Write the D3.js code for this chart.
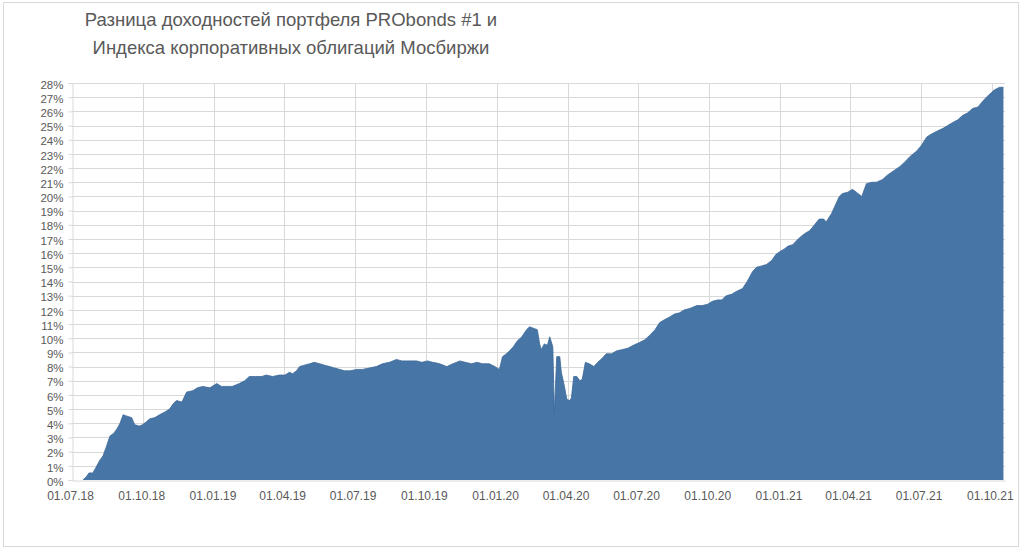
<!DOCTYPE html>
<html><head><meta charset="utf-8">
<script src="https://cdn.jsdelivr.net/npm/d3@7/dist/d3.min.js"></script>
<style>body{margin:0;background:#fff}svg{display:block}</style>
</head><body><svg id="c" width="1024" height="550"></svg>
<script>
const titleLines = ["Разница доходностей портфеля PRObonds #1 и", "Индекса корпоративных облигаций Мосбиржи"];
const xTickDates = ["2018-07-01","2018-10-01","2019-01-01","2019-04-01","2019-07-01","2019-10-01","2020-01-01","2020-04-01","2020-07-01","2020-10-01","2021-01-01","2021-04-01","2021-07-01","2021-10-01"];
const yTicks = d3.range(0, 29);
const dates = ["2018-07-15","2018-07-19","2018-07-23","2018-07-28","2018-08-01","2018-08-06","2018-08-10","2018-08-14","2018-08-19","2018-08-24","2018-08-28","2018-09-01","2018-09-05","2018-09-10","2018-09-16","2018-09-20","2018-09-26","2018-09-30","2018-10-05","2018-10-09","2018-10-16","2018-10-22","2018-10-29","2018-11-04","2018-11-09","2018-11-13","2018-11-20","2018-11-26","2018-12-04","2018-12-10","2018-12-17","2018-12-26","2019-01-04","2019-01-10","2019-01-17","2019-01-24","2019-02-02","2019-02-09","2019-02-15","2019-02-23","2019-03-03","2019-03-09","2019-03-17","2019-03-26","2019-04-02","2019-04-08","2019-04-12","2019-04-17","2019-04-21","2019-04-27","2019-05-04","2019-05-10","2019-05-17","2019-05-23","2019-05-30","2019-06-05","2019-06-12","2019-06-18","2019-06-25","2019-07-04","2019-07-11","2019-07-20","2019-07-29","2019-08-06","2019-08-15","2019-08-24","2019-08-31","2019-09-06","2019-09-13","2019-09-19","2019-09-26","2019-10-03","2019-10-10","2019-10-19","2019-10-28","2019-11-05","2019-11-14","2019-11-21","2019-11-29","2019-12-06","2019-12-13","2019-12-22","2019-12-29","2020-01-04","2020-01-08","2020-01-13","2020-01-17","2020-01-22","2020-01-27","2020-02-02","2020-02-08","2020-02-12","2020-02-17","2020-02-22","2020-02-25","2020-02-27","2020-03-02","2020-03-06","2020-03-09","2020-03-13","2020-03-15","2020-03-18","2020-03-22","2020-03-24","2020-03-28","2020-03-31","2020-04-04","2020-04-06","2020-04-09","2020-04-13","2020-04-17","2020-04-20","2020-04-24","2020-04-29","2020-05-05","2020-05-10","2020-05-16","2020-05-21","2020-05-28","2020-06-03","2020-06-11","2020-06-18","2020-06-25","2020-07-03","2020-07-10","2020-07-16","2020-07-23","2020-07-29","2020-08-04","2020-08-11","2020-08-17","2020-08-24","2020-08-30","2020-09-06","2020-09-15","2020-09-22","2020-09-29","2020-10-05","2020-10-12","2020-10-17","2020-10-23","2020-10-30","2020-11-05","2020-11-13","2020-11-19","2020-11-26","2020-12-01","2020-12-08","2020-12-14","2020-12-21","2020-12-26","2020-12-31","2021-01-06","2021-01-11","2021-01-17","2021-01-22","2021-01-28","2021-02-02","2021-02-08","2021-02-14","2021-02-20","2021-02-26","2021-03-01","2021-03-08","2021-03-13","2021-03-18","2021-03-22","2021-03-29","2021-04-04","2021-04-09","2021-04-16","2021-04-22","2021-04-29","2021-05-05","2021-05-13","2021-05-19","2021-05-27","2021-06-04","2021-06-10","2021-06-17","2021-06-26","2021-07-02","2021-07-09","2021-07-15","2021-07-22","2021-07-30","2021-08-05","2021-08-11","2021-08-18","2021-08-24","2021-08-31","2021-09-06","2021-09-13","2021-09-19","2021-09-24","2021-09-30","2021-10-04","2021-10-11","2021-10-16"];
const spread = [0.0,0.2,0.5,0.5,0.9,1.4,1.7,2.3,3.1,3.3,3.6,4.0,4.6,4.5,4.4,3.9,3.8,3.9,4.1,4.3,4.4,4.6,4.8,5.0,5.4,5.6,5.5,6.2,6.3,6.5,6.6,6.5,6.8,6.6,6.6,6.6,6.8,7.0,7.3,7.3,7.3,7.4,7.3,7.4,7.4,7.6,7.5,7.7,8.0,8.1,8.2,8.3,8.2,8.1,8.0,7.9,7.8,7.7,7.7,7.8,7.8,7.9,8.0,8.2,8.3,8.5,8.4,8.4,8.4,8.4,8.3,8.4,8.3,8.2,8.0,8.2,8.4,8.3,8.2,8.3,8.2,8.2,8.0,7.8,8.7,8.9,9.1,9.4,9.8,10.1,10.6,10.8,10.7,10.6,9.6,9.2,9.6,9.5,10.1,9.4,4.7,8.7,8.7,7.6,6.6,5.7,5.6,5.8,7.3,7.3,7.0,7.1,8.3,8.2,8.0,8.3,8.6,8.9,8.9,9.1,9.2,9.3,9.5,9.7,9.9,10.2,10.6,11.1,11.3,11.5,11.7,11.8,12.0,12.1,12.3,12.3,12.4,12.6,12.7,12.7,13.0,13.1,13.3,13.5,14.0,14.7,15.0,15.1,15.2,15.5,15.9,16.1,16.3,16.5,16.6,16.9,17.2,17.4,17.6,18.0,18.4,18.4,18.2,18.8,19.4,20.0,20.2,20.3,20.5,20.3,20.0,20.9,21.0,21.0,21.2,21.5,21.8,22.1,22.4,22.8,23.2,23.6,24.2,24.4,24.6,24.8,25.0,25.2,25.4,25.7,25.9,26.2,26.3,26.7,27.0,27.3,27.5,27.7,27.7];

const parse = d3.timeParse("%Y-%m-%d");
const data = dates.map((d, i) => ({date: parse(d), v: spread[i]}));

const svg = d3.select("#c");
const m = {left: 72, right: 1005, top: 83, bottom: 480};

// outer frame
svg.append("rect").attr("x", 3.5).attr("y", 2.5).attr("width", 1015).attr("height", 544)
  .attr("fill", "#fff").attr("stroke", "#d9d9d9");

const x = d3.scaleTime().domain([parse("2018-07-01"), parse("2021-10-18")]).range([m.left, m.right]);
const y = d3.scaleLinear().domain([0, 28]).range([m.bottom, m.top]);

// gridlines
const g = svg.append("g");
g.selectAll("line.h").data(yTicks.filter(t => t > 0)).join("line")
  .attr("x1", m.left).attr("x2", m.right)
  .attr("y1", d => Math.round(y(d)) + 0.5).attr("y2", d => Math.round(y(d)) + 0.5)
  .attr("stroke", "#d9d9d9").attr("stroke-width", 1);
g.selectAll("line.v").data(xTickDates.slice(1).map(parse)).join("line")
  .attr("x1", d => Math.round(x(d)) + 0.5).attr("x2", d => Math.round(x(d)) + 0.5)
  .attr("y1", m.top).attr("y2", m.bottom)
  .attr("stroke", "#d9d9d9").attr("stroke-width", 1);

// area
const area = d3.area().x(d => x(d.date)).y0(y(0)).y1(d => y(d.v)).curve(d3.curveLinear);
svg.append("path").datum(data).attr("d", area).attr("fill", "#4675a6");
svg.append("path").datum(data)
  .attr("d", d3.line().x(d => x(d.date)).y(d => y(d.v)))
  .attr("fill", "none").attr("stroke", "#3d6a99").attr("stroke-width", 0.8);

// axes
const yAxis = d3.axisLeft(y).tickValues(yTicks).tickSize(4).tickFormat(d => d + "%");
const ya = svg.append("g").attr("transform", `translate(${m.left + 0.5},0)`).call(yAxis);
ya.select(".domain").attr("stroke", "#d9d9d9");
ya.selectAll(".tick line").attr("stroke", "#d9d9d9");
ya.selectAll(".tick text").attr("fill", "#595959").attr("font-family", "Liberation Sans, Arial, sans-serif")
  .attr("font-size", 11.5).attr("x", -9).attr("dy", "0.45em");

const xAxis = d3.axisBottom(x).tickValues(xTickDates.map(parse)).tickSize(0).tickFormat(d3.timeFormat("%d.%m.%y"));
const xa = svg.append("g").attr("transform", `translate(0,${m.bottom + 0.5})`).call(xAxis);
xa.select(".domain").attr("stroke", "#d9d9d9");
xa.selectAll(".tick text").attr("fill", "#595959").attr("font-family", "Liberation Sans, Arial, sans-serif")
  .attr("font-size", 12).attr("dy", "0.71em").attr("y", 11).attr("dx", -2);

// title
svg.append("g").selectAll("text").data(titleLines).join("text")
  .attr("x", 291).attr("y", (d, i) => 26 + i * 28)
  .attr("text-anchor", "middle").attr("fill", "#595959")
  .attr("font-family", "Liberation Sans, Arial, sans-serif").attr("font-size", 18.5)
  .text(d => d);
</script></body></html>
